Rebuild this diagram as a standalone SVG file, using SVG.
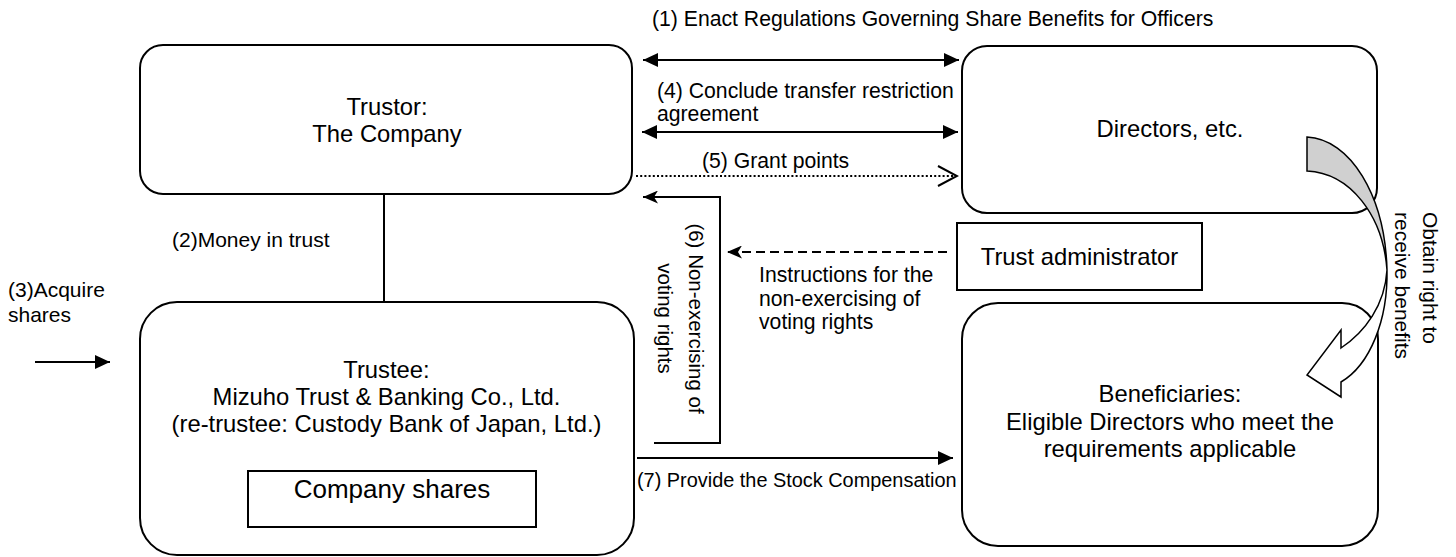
<svg xmlns="http://www.w3.org/2000/svg" width="1456" height="557" viewBox="0 0 1456 557">
  <style>
    text { font-family: "Liberation Sans", Arial, Helvetica, sans-serif; fill: #000; }
    .node { font-size: 23.8px; text-anchor: middle; }
    .lbl { font-size: 21px; }
    .lbl-top { font-size: 21.2px; }
    .box { fill: #fff; stroke: #000; stroke-width: 2; }
    .edge { fill: none; stroke: #000; stroke-width: 2; }
  </style>
  <defs>
    <marker id="tri" viewBox="0 0 15 14" refX="15" refY="7" markerWidth="15" markerHeight="14" markerUnits="userSpaceOnUse" orient="auto-start-reverse">
      <path d="M0,0 L15,7 L0,14 z" fill="#000"/>
    </marker>
    <marker id="classic" viewBox="0 0 15 13" refX="15" refY="6.5" markerWidth="15" markerHeight="13" markerUnits="userSpaceOnUse" orient="auto">
      <path d="M0,0 L15,6.5 L0,13 L4,6.5 z" fill="#000"/>
    </marker>
    <marker id="open" viewBox="-1 -1 22 22" refX="19" refY="10" markerWidth="22" markerHeight="22" markerUnits="userSpaceOnUse" orient="auto">
      <path d="M0,0 L19,10 L0,20" fill="none" stroke="#000" stroke-width="2"/>
    </marker>
  </defs>

  <!-- connectors -->
  <g id="connectors">
    <!-- (1) and (4): two-way links between the Company and the directors -->
    <line class="edge" x1="643" y1="60" x2="959" y2="60" marker-start="url(#tri)" marker-end="url(#tri)"/>
    <line class="edge" x1="642" y1="132" x2="958" y2="132" marker-start="url(#tri)" marker-end="url(#tri)"/>
    <!-- (5) grant points -->
    <line class="edge" x1="636" y1="176" x2="957" y2="176" stroke-dasharray="2 2.2" marker-end="url(#open)"/>
    <!-- (2) money in trust -->
    <line class="edge" x1="384" y1="194" x2="384" y2="302"/>
    <!-- (3) acquire shares -->
    <line class="edge" x1="35" y1="362" x2="110" y2="362" marker-end="url(#tri)"/>
    <!-- (6) non-exercising of voting rights -->
    <path class="edge" d="M654,443 H720 V197 H643" marker-end="url(#classic)"/>
    <!-- instructions from the trust administrator -->
    <line class="edge" x1="947" y1="252" x2="727" y2="252" stroke-dasharray="9 5" marker-end="url(#classic)"/>
    <!-- (7) stock compensation -->
    <line class="edge" x1="637" y1="458" x2="953" y2="458" marker-end="url(#tri)"/>

    <text class="lbl-top" x="652" y="26">(1) Enact Regulations Governing Share Benefits for Officers</text>
    <text class="lbl-top" x="657" y="98">(4) Conclude transfer restriction</text>
    <text class="lbl-top" x="657" y="121">agreement</text>
    <text class="lbl-top" x="702" y="168">(5) Grant points</text>
    <text class="lbl" x="172" y="247">(2)Money in trust</text>
    <text class="lbl" x="8" y="297">(3)Acquire</text>
    <text class="lbl" x="8" y="322">shares</text>
    <text class="lbl-top" x="759" y="282">Instructions for the</text>
    <text class="lbl-top" x="759" y="305.5">non-exercising of</text>
    <text class="lbl-top" x="759" y="329">voting rights</text>
    <text class="lbl" x="637" y="487" style="font-size:19.9px">(7) Provide the Stock Compensation</text>
    <g transform="translate(689,318.5) rotate(90)">
      <text class="lbl" x="0" y="0" text-anchor="middle" style="font-size:20.5px">(6) Non-exercising of</text>
      <text class="lbl" x="0" y="31" text-anchor="middle" style="font-size:20.5px">voting rights</text>
    </g>
  </g>

  <!-- nodes -->
  <g id="trustor">
    <rect class="box" x="140" y="45" width="492" height="149" rx="23" ry="23"/>
    <text class="node" x="387" y="115">Trustor:</text>
    <text class="node" x="387" y="142">The Company</text>
  </g>

  <g id="trustee">
    <rect class="box" x="140" y="302" width="494" height="253" rx="37" ry="37"/>
    <text class="node" x="386.5" y="378">Trustee:</text>
    <text class="node" x="386.5" y="405">Mizuho Trust &amp; Banking Co., Ltd.</text>
    <text class="node" x="386.5" y="432">(re-trustee: Custody Bank of Japan, Ltd.)</text>
  </g>

  <g id="company-shares">
    <rect class="box" x="248" y="471" width="288" height="56"/>
    <text class="node" x="392" y="498" style="font-size:26px">Company shares</text>
  </g>

  <g id="directors">
    <rect class="box" x="962" y="46" width="415" height="167" rx="25" ry="25"/>
    <text class="node" x="1170" y="137">Directors, etc.</text>
  </g>

  <g id="trust-administrator">
    <rect class="box" x="957" y="223" width="245" height="67"/>
    <text class="node" x="1079.5" y="265">Trust administrator</text>
  </g>

  <g id="beneficiaries">
    <rect class="box" x="962" y="303" width="416" height="243" rx="36" ry="36"/>
    <text class="node" x="1170" y="402">Beneficiaries:</text>
    <text class="node" x="1170" y="430">Eligible Directors who meet the</text>
    <text class="node" x="1170" y="457">requirements applicable</text>
  </g>

  <!-- curved block arrow: directors obtain right to receive benefits -->
  <g id="obtain-right">
    <path d="M1307,137 C1350,139 1385,195 1387,270 C1383,215 1350,173 1307,171 Z" fill="#d0d0d0" stroke="#000" stroke-width="1.5"/>
    <path d="M1387,270 C1388,320 1370,365 1341,382 L1341,397 L1307,375 L1341,330 L1341,348 C1365,332 1385,305 1387,270 Z" fill="#fff" stroke="#000" stroke-width="1.5" stroke-linejoin="miter"/>
    <g transform="translate(1423,212) rotate(90)">
      <text class="lbl" x="0" y="0">Obtain right to</text>
      <text class="lbl" x="0" y="28">receive benefits</text>
    </g>
  </g>
</svg>
